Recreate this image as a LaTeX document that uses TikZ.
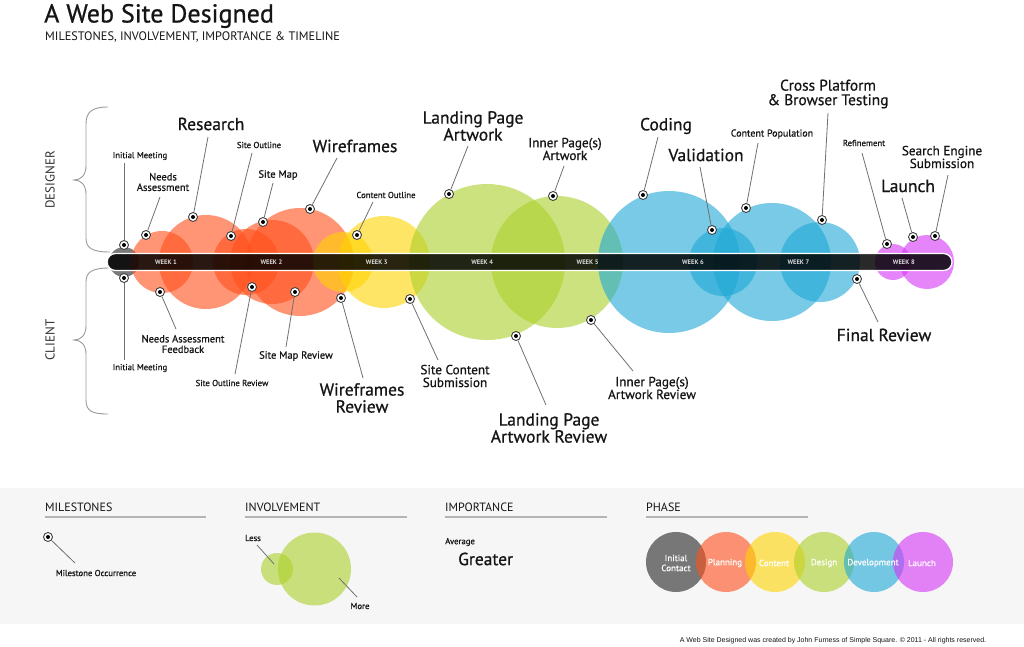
\documentclass[tikz,border=0pt]{standalone}
\usepackage{fontspec}
\setmainfont{PT Sans}
\newfontfamily\semi{PT Sans}[FakeBold=0.7]
\newfontfamily\footfont{Liberation Sans}
\begin{document}
\begin{tikzpicture}[x=1pt,y=-1pt]
% palette
\definecolor{ink}{HTML}{151515}
\definecolor{band}{HTML}{F6F6F6}
\definecolor{ruleC}{HTML}{B4B4B4}
\definecolor{connC}{HTML}{707070}
\definecolor{braceC}{HTML}{9A9A9A}
\definecolor{grayC}{HTML}{333333}
\definecolor{orangeC}{HTML}{FF4F1A}
\definecolor{yellowC}{HTML}{FFD400}
\definecolor{greenC}{HTML}{ABD02A}
\definecolor{blueC}{HTML}{1EA8D6}
\definecolor{purpleC}{HTML}{D633F5}
\tikzset{
  lbig/.style={font=\semi\fontsize{17.5}{17}\selectfont, text=ink, align=center, inner sep=0},
  lcross/.style={font=\semi\fontsize{15.4}{14.5}\selectfont, text=ink, align=center, inner sep=0},
  lmidb/.style={font=\semi\fontsize{13.2}{12.8}\selectfont, text=ink, align=center, inner sep=0},
  lmid/.style={font=\semi\fontsize{10.5}{10.5}\selectfont, text=ink, align=center, inner sep=0},
  lsmall/.style={font=\semi\fontsize{8.7}{9}\selectfont, text=ink, align=center, inner sep=0},
  weeklbl/.style={font=\fontsize{6.5}{6.5}\selectfont\bfseries, text=white!85!black, inner sep=0},
  head/.style={font=\fontsize{12}{12}\selectfont, text=ink, anchor=west, inner sep=0},
  phaselbl/.style={font=\semi\fontsize{9}{10}\selectfont, text=white, align=center, inner sep=0},
  conn/.style={draw=connC, line width=0.8pt},
  ms/.style={circle, fill=white, draw=black!75, line width=0.9pt, minimum size=9pt, inner sep=0pt,
    path picture={\fill[black] (path picture bounding box.center) circle (2pt);}},
  bub/.style={fill=#1, fill opacity=0.6},
  rulefig/.style={draw=ruleC, line width=1.6pt},
  bracefig/.style={draw=braceC, line width=0.9pt},
}
\useasboundingbox (0,0) rectangle (1024,647);
\fill[white] (0,0) rectangle (1024,647);

% ---------- heading ----------
\node[anchor=west, font=\semi\fontsize{26}{26}\selectfont, text=ink, inner sep=0] (title) at (44,16) {A Web Site Designed};
\node[anchor=west, font=\fontsize{12.3}{12.3}\selectfont, text=ink, inner sep=0] (subtitle) at (45,37) {MILESTONES, INVOLVEMENT, IMPORTANCE \& TIMELINE};

% ---------- side braces ----------
\draw[bracefig] (108,107) .. controls (92,107) and (86,112) .. (86,124) -- (86,166)
  .. controls (86,175) and (81,180) .. (74,180) .. controls (81,180) and (86,185) .. (86,194)
  -- (86,238) .. controls (86,248) and (92,252) .. (110,252);
\draw[bracefig] (110,268) .. controls (92,268) and (86,272) .. (86,282) -- (86,326)
  .. controls (86,335) and (81,340) .. (74,340) .. controls (81,340) and (86,345) .. (86,354)
  -- (86,400) .. controls (86,411) and (92,414) .. (108,414);
\node[rotate=90, font=\fontsize{13}{13}\selectfont, text=black!80] (designer) at (50,180) {DESIGNER};
\node[rotate=90, font=\fontsize{13}{13}\selectfont, text=black!80] (client) at (50,340) {CLIENT};

% ---------- involvement bubbles ----------
\fill[bub=grayC, fill opacity=0.65] (124,262) circle (15pt);
\fill[bub=orangeC] (162,262) circle (31pt);
\fill[bub=orangeC] (206,262) circle (47pt);
\fill[bub=orangeC] (246,262) circle (33pt);
\fill[bub=orangeC] (272,262) circle (42pt);
\fill[bub=orangeC] (300,262) circle (54pt);
\fill[bub=yellowC] (343,262) circle (30pt);
\fill[bub=yellowC] (384,262) circle (46pt);
\fill[bub=greenC] (487,262) circle (78pt);
\fill[bub=greenC] (557,262) circle (66pt);
\fill[bub=blueC] (669,262) circle (71pt);
\fill[bub=blueC] (723,262) circle (34pt);
\fill[bub=blueC] (772,262) circle (59pt);
\fill[bub=blueC] (820,262) circle (40pt);
\fill[bub=purpleC] (893,262) circle (18pt);
\fill[bub=purpleC] (927,262) circle (27pt);

% ---------- timeline bar ----------
\draw[draw=white, line width=1.3pt, fill=black, fill opacity=0.84, rounded corners=8.5pt]
  (107,253.5) rectangle (952,270.5);
\foreach \k in {1,...,8}{
  \node[weeklbl] (week\k) at ({166+105.4*(\k-1)},262.5) {WEEK \k};
}

% ---------- milestones above the bar (designer) ----------
\node[ms] (m1) at (124,245) {};
\node[ms] (m2) at (146,235) {};
\node[ms] (m3) at (193,217) {};
\node[ms] (m4) at (231,236) {};
\node[ms] (m5) at (263,222) {};
\node[ms] (m6) at (310,209) {};
\node[ms] (m7) at (357,235) {};
\node[ms] (m8) at (449,194) {};
\node[ms] (m9) at (553,196) {};
\node[ms] (m10) at (643,195) {};
\node[ms] (m11) at (712,230) {};
\node[ms] (m12) at (746,208) {};
\node[ms] (m13) at (822,220) {};
\node[ms] (m14) at (887,244) {};
\node[ms] (m15) at (913,237) {};
\node[ms] (m16) at (935,236) {};

\coordinate (e1) at (124,163);
\coordinate (e2) at (160,197);
\coordinate (e3) at (208,137);
\coordinate (e4) at (252,153);
\coordinate (e5) at (273,183);
\coordinate (e6) at (337,158);
\coordinate (e7) at (373,202);
\coordinate (e8) at (468,146);
\coordinate (e9) at (564,166);
\coordinate (e10) at (658,137);
\coordinate (e11) at (700,167);
\coordinate (e12) at (758,143);
\coordinate (e13) at (828,113);
\coordinate (e14) at (862,153);
\coordinate (e15) at (902,198);
\coordinate (e16) at (948,175);
\foreach \i in {1,...,16}{ \draw[conn] (m\i) -- (e\i); }

\node[lsmall] (t1) at (140,156) {Initial Meeting};
\node[lmid] (t2) at (163,182) {Needs\\Assessment};
\node[lbig] (t3) at (211,124) {Research};
\node[lsmall] (t4) at (259,145) {Site Outline};
\node[lmid] (t5) at (278,175) {Site Map};
\node[lbig] (t6) at (355,146) {Wireframes};
\node[lsmall] (t7) at (386,195) {Content Outline};
\node[lbig] (t8) at (473,126) {Landing Page\\Artwork};
\node[lmidb] (t9) at (565,149) {Inner Page(s)\\Artwork};
\node[lbig] (t10) at (666,126) {Coding};
\node[lbig] (t11) at (706,155) {Validation};
\node[lsmall, font=\semi\fontsize{10}{10}\selectfont] (t12) at (772,134) {Content Population};
\node[lcross] (t13) at (828,94) {Cross Platform\\\& Browser Testing};
\node[lsmall] (t14) at (864,143) {Refinement};
\node[lbig] (t15) at (908,186) {Launch};
\node[lmidb] (t16) at (942,157) {Search Engine\\Submission};

% ---------- milestones below the bar (client) ----------
\node[ms] (n1) at (124,278) {};
\node[ms] (n2) at (160,292) {};
\node[ms] (n3) at (252,287) {};
\node[ms] (n4) at (295,292) {};
\node[ms] (n5) at (341,298) {};
\node[ms] (n6) at (410,299) {};
\node[ms] (n7) at (516,336) {};
\node[ms] (n8) at (591,320) {};
\node[ms] (n9) at (857,279) {};

\coordinate (f1) at (124,360);
\coordinate (f2) at (176,329);
\coordinate (f3) at (235,374);
\coordinate (f4) at (286,347);
\coordinate (f5) at (363,378);
\coordinate (f6) at (438,360);
\coordinate (f7) at (546,405);
\coordinate (f8) at (633,371);
\coordinate (f9) at (878,322);
\foreach \i in {1,...,9}{ \draw[conn] (n\i) -- (f\i); }

\node[lsmall] (b1) at (140,368) {Initial Meeting};
\node[lmid] (b2) at (183,344) {Needs Assessment\\Feedback};
\node[lsmall] (b3) at (232,383) {Site Outline Review};
\node[lmid] (b4) at (296,356) {Site Map Review};
\node[lbig] (b5) at (362,398) {Wireframes\\Review};
\node[lmidb] (b6) at (455,376) {Site Content\\Submission};
\node[lbig] (b7) at (549,428) {Landing Page\\Artwork Review};
\node[lmidb] (b8) at (652,388) {Inner Page(s)\\Artwork Review};
\node[lbig] (b9) at (884,335) {Final Review};

% ---------- legend band ----------
\fill[band] (0,488) rectangle (1024,624);

\node[head] (hMil) at (45,507) {MILESTONES};
\draw[rulefig] (45,517) -- (206,517);
\node[head] (hInv) at (245,507) {INVOLVEMENT};
\draw[rulefig] (245,517) -- (407,517);
\node[head] (hImp) at (445,507) {IMPORTANCE};
\draw[rulefig] (445,517) -- (607,517);
\node[head] (hPha) at (646,507) {PHASE};
\draw[rulefig] (646,517) -- (808,517);

% milestone key
\node[ms] (lm) at (48,537) {};
\coordinate (lmEnd) at (75,563);
\draw[conn] (lm) -- (lmEnd);
\node[lsmall] (lmTxt) at (96,573) {Milestone Occurrence};

% involvement key
\fill[bub=greenC] (277,569) circle (16pt);
\fill[bub=greenC] (314.5,569) circle (36.5pt);
\node[lsmall] (less) at (253,538) {Less};
\coordinate (lessA) at (257,545);
\coordinate (lessB) at (274,564);
\draw[conn] (lessA) -- (lessB);
\node[lsmall] (more) at (360,606) {More};
\coordinate (moreA) at (339,578);
\coordinate (moreB) at (357,597);
\draw[conn] (moreA) -- (moreB);

% importance key
\node[lsmall, anchor=west] (avg) at (445,542) {Average};
\node[lbig, anchor=west] (grt) at (458,559) {Greater};

% phase key
\fill[bub=grayC, fill opacity=0.65] (676,562) circle (30pt);
\fill[bub=orangeC] (726,562) circle (30pt);
\fill[bub=yellowC] (775,562) circle (30pt);
\fill[bub=greenC] (824,562) circle (30pt);
\fill[bub=blueC] (874,562) circle (30pt);
\fill[bub=purpleC] (923,562) circle (30pt);
\node[phaselbl] (p1) at (676,563) {Initial\\Contact};
\node[phaselbl] (p2) at (725,563) {Planning};
\node[phaselbl] (p3) at (774,563) {Content};
\node[phaselbl] (p4) at (824,563) {Design};
\node[phaselbl] (p5) at (873,563) {Development};
\node[phaselbl] (p6) at (922,563) {Launch};

% ---------- credit line ----------
\node[font=\footfont\fontsize{7}{7}\selectfont, text=ink, inner sep=0] (credit) at (833,641)
  {A Web Site Designed was created by John Furness of Simple Square. \textcopyright{} 2011 - All rights reserved.};
\end{tikzpicture}
\end{document}
